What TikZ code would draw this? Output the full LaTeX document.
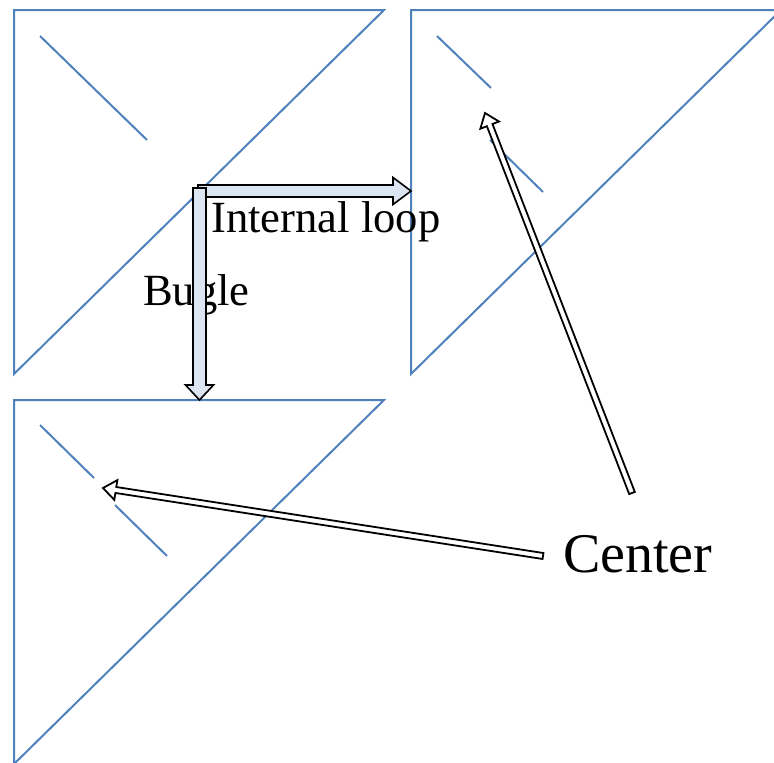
\documentclass[tikz,border=0pt]{standalone}
\usepackage{fontspec}
\setmainfont{Liberation Serif}
\usepackage{xcolor}
\usepackage{tikz}
\usetikzlibrary{calc,positioning}

\definecolor{strandblue}{HTML}{4F81BD}
\definecolor{arrowfill}{HTML}{DCE6F2}

% style, tail, tip, half shaft, half head, head length
\newcommand{\blockarrow}[6]{%
  \coordinate (#3-base) at ($(#3)!#6!(#2)$);
  \draw[#1] ($(#2)!#4!90:(#3)$) -- ($(#3-base)!#4!90:(#3)$) -- ($(#3-base)!#5!90:(#3)$)
    -- (#3) -- ($(#3-base)!#5!-90:(#3)$) -- ($(#3-base)!#4!-90:(#3)$) -- ($(#2)!#4!-90:(#3)$) -- cycle;
}

\begin{document}
\begin{tikzpicture}[
  x=1pt, y=-1pt,
  tri/.style={draw=strandblue, line width=2pt, line join=miter},
  strand/.style={draw=strandblue, line width=2pt},
  bigarrow/.style={draw=black, fill=arrowfill, line width=1.6pt, line join=miter},
  thinarrow/.style={draw=black, fill=white, line width=1.8pt, line join=miter},
  caption/.style={inner sep=0pt, anchor=base west, font=\fontsize{44.6}{50}\selectfont},
  bigcaption/.style={inner sep=0pt, anchor=base west, font=\fontsize{56}{62}\selectfont}
]
\useasboundingbox (0,0) rectangle (774,763);
\clip (0,0) rectangle (774,763);

\draw[tri] (14,10) -- (384,10) -- (14,374) -- cycle;
\draw[tri] (411,10) -- (781,10) -- (411,374) -- cycle;
\draw[tri] (14,400) -- (384,400) -- (14,764) -- cycle;

\draw[strand] (40,36) -- (147,140);
\draw[strand] (437,36) -- (491,88);
\draw[strand] (490,140) -- (543,192);
\draw[strand] (40,425) -- (94,478);
\draw[strand] (115,505) -- (167,556);

\node[caption] (loop) at (211,232) {Internal loop};
\node[caption] (bugle) at (143,305) {Bugle};
\node[bigcaption] (center) at (563,572) {Center};

\coordinate (loopTail) at (198,191);
\coordinate (loopTip) at (411,191);
\coordinate (bugleTail) at (199.5,188);
\coordinate (bugleTip) at (199.5,400);
\coordinate (trTail) at (632,493);
\coordinate (trTip) at (485,113);
\coordinate (blTail) at (543,556);
\coordinate (blTip) at (103,488);

\blockarrow{bigarrow}{loopTail}{loopTip}{6pt}{13.5pt}{18pt}
\blockarrow{bigarrow}{bugleTail}{bugleTip}{6.5pt}{14pt}{15pt}
\blockarrow{thinarrow}{trTail}{trTip}{3pt}{10pt}{13pt}
\blockarrow{thinarrow}{blTail}{blTip}{3pt}{10pt}{13pt}

\end{tikzpicture}
\end{document}
